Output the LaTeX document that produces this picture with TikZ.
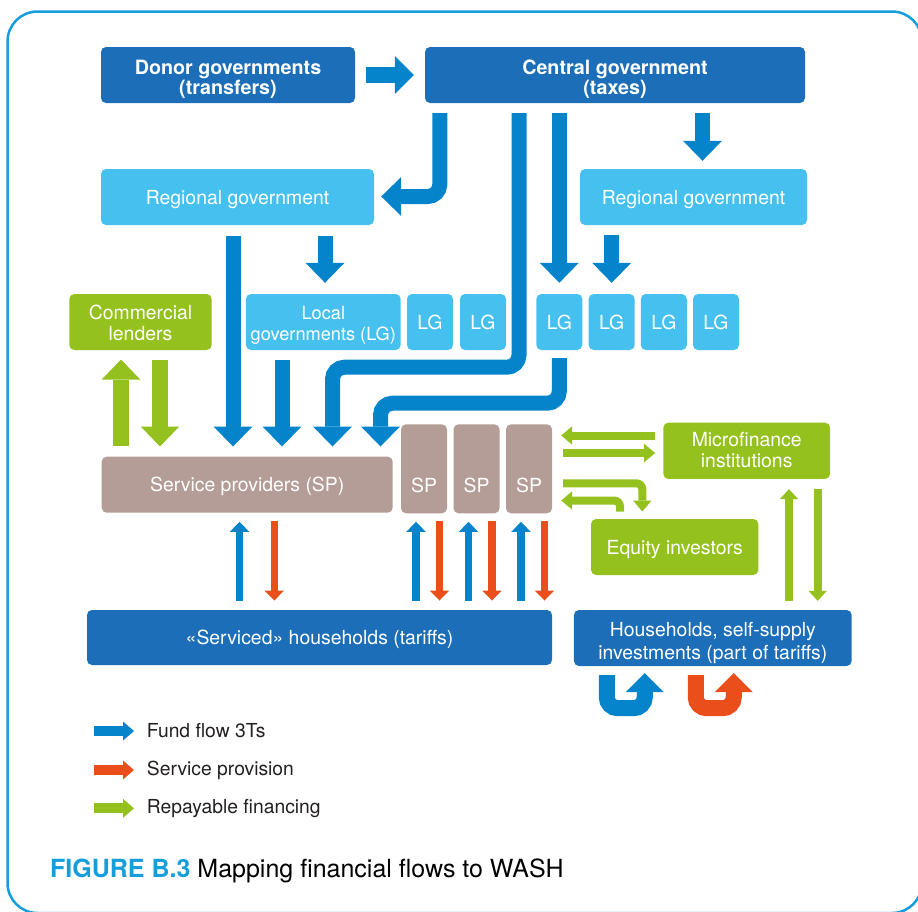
\documentclass[tikz,border=0pt]{standalone}
\usepackage{fontspec}
\setmainfont{TeX Gyre Heros}
\usetikzlibrary{arrows.meta,calc}
\definecolor{dkblue}{RGB}{27,110,183}
\definecolor{arblue}{RGB}{5,132,203}
\definecolor{ltblue}{RGB}{70,193,239}
\definecolor{grn}{RGB}{149,193,31}
\definecolor{taupe}{RGB}{180,157,150}
\definecolor{orng}{RGB}{233,78,27}
\definecolor{capblue}{RGB}{20,158,220}
\definecolor{legtext}{RGB}{35,31,32}
\newcommand{\tlines}[2]{\begin{tabular}[t]{@{}c@{}}#1\\#2\end{tabular}}
\begin{document}
\begin{tikzpicture}[x=1pt,y=-1pt,
  box/.style={rounded corners=5pt, inner sep=0pt, text=white, font=\fontsize{19.4}{21}\selectfont, text height=14pt, text depth=0pt},
  twoline/.style={text height=14pt, text depth=20pt},
  dbox/.style={box, fill=dkblue},
  lbox/.style={box, fill=ltblue},
  gbox/.style={box, fill=grn},
  sbox/.style={box, fill=taupe},
  boldtwo/.style={font=\fontsize{19.7}{19}\selectfont\bfseries, text height=14pt, text depth=15.4pt},
  fatblue/.style={draw=arblue, line width=15pt, -{Triangle[length=20pt,width=39pt,line width=0pt]}},
  donorarrow/.style={draw=arblue, line width=16pt, -{Triangle[length=19pt,width=38pt,line width=0pt]}},
  fatgreen/.style={draw=grn, line width=16pt, -{Triangle[length=20pt,width=38.5pt,line width=0pt]}},
  slimblue/.style={draw=arblue, line width=7.6pt, -{Triangle[length=10pt,width=19.7pt,line width=0pt]}},
  slimorange/.style={draw=orng, line width=7.6pt, -{Triangle[length=10pt,width=19.7pt,line width=0pt]}},
  slimgreen/.style={draw=grn, line width=7.6pt, -{Triangle[length=10pt,width=18.5pt,line width=0pt]}},
  midgreen/.style={draw=grn, line width=8pt, -{Triangle[length=11pt,width=18.5pt,line width=0pt]}},
  ublue/.style={draw=arblue, line width=16pt, -{Triangle[length=19pt,width=38pt,line width=0pt]}},
  uorange/.style={draw=orng, line width=16pt, -{Triangle[length=19pt,width=38pt,line width=0pt]}},
  legarrow/.style={line width=10pt, -{Triangle[length=11pt,width=19pt,line width=0pt]}},
  legtxt/.style={anchor=west, inner sep=0pt, text=legtext, font=\fontsize{19.3}{21}\selectfont},
  sptxt/.style={inner sep=0pt, text=white, font=\fontsize{19.4}{21}\selectfont, text height=14pt, text depth=0pt}
]
\useasboundingbox (0,0) rectangle (918,911);
\clip (0,0) rectangle (918,911);
\draw[capblue, line width=2.5pt, rounded corners=30pt] (7.5,11.5) rectangle (922,913);

% boxes
\node[dbox, boldtwo, minimum width=254pt, minimum height=56pt] (donor) at (228,75) {\tlines{Donor governments}{(transfers)}};
\node[dbox, boldtwo, minimum width=380pt, minimum height=56pt] (central) at (615,75) {\tlines{Central government}{(taxes)}};
\node[lbox, minimum width=273pt, minimum height=56pt] (regL) at (237.5,197) {Regional government};
\node[lbox, minimum width=227pt, minimum height=56pt] (regR) at (693.5,197) {Regional government};
\node[gbox, twoline, minimum width=142.4pt, minimum height=56pt] (comL) at (140.5,322) {\tlines{Commercial}{lenders}};
\node[lbox, twoline, minimum width=154.7pt, minimum height=56pt, font=\fontsize{18.2}{21}\selectfont] (localG) at (323.3,322) {\tlines{Local}{governments (LG)}};
\node[lbox, minimum width=46pt, minimum height=56pt] (lg1) at (430,322) {LG};
\node[lbox, minimum width=46pt, minimum height=56pt] (lg2) at (483,322) {LG};
\node[lbox, minimum width=46pt, minimum height=56pt] (lg3) at (559.3,322) {LG};
\node[lbox, minimum width=46pt, minimum height=56pt] (lg4) at (611.7,322) {LG};
\node[lbox, minimum width=46pt, minimum height=56pt] (lg5) at (663.8,322) {LG};
\node[lbox, minimum width=46pt, minimum height=56pt] (lg6) at (716,322) {LG};
\node[sbox, minimum width=291pt, minimum height=56pt] (spbig) at (247.2,484.7) {Service providers (SP)};
\node[sbox, minimum width=46pt, minimum height=89pt] (sp1) at (424,468.8) {};
\node[sbox, minimum width=46pt, minimum height=89pt] (sp2) at (476.5,468.8) {};
\node[sbox, minimum width=46pt, minimum height=89pt] (sp3) at (529,468.8) {};
\node[sptxt] (sp1t) at ($(sp1.center)+(0,17)$) {SP};
\node[sptxt] (sp2t) at ($(sp2.center)+(0,17)$) {SP};
\node[sptxt] (sp3t) at ($(sp3.center)+(0,17)$) {SP};
\node[gbox, minimum width=166.7pt, minimum height=56.3pt, text height=14pt, text depth=22pt] (micro) at (746.7,450.8) {\tlines{Microfinance}{institutions}};
\node[gbox, minimum width=167.3pt, minimum height=56pt] (equity) at (674.7,547) {Equity investors};
\node[dbox, minimum width=465pt, minimum height=55pt] (hhserv) at (319.5,637.5) {«Serviced» households (tariffs)};
\node[dbox, minimum width=277.7pt, minimum height=56pt, font=\fontsize{19.4}{22.5}\selectfont, text height=14pt, text depth=17pt] (hhself) at (712.8,638) {\tlines{Households, self-supply}{investments (part of tariffs)}};

% fund flow arrows
\draw[donorarrow] ($(donor.east)+(11,0)$) -- ($(central.west)+(-11,0)$);
\draw[fatblue, rounded corners=12pt] ($(central.south west)+(15,10)$) |- ($(regL.east)+(7,-0.5)$);
\draw[fatblue] ($(central.south -| regR.north)+(9,10)$) -- ($(regR.north)+(9,-8)$);
\draw[fatblue] ($(central.south -| lg3.north)+(0,10)$) -- ($(lg3.north)+(0,-11)$);
\draw[fatblue] ($(regR.south -| lg4.north)+(0,10)$) -- ($(lg4.north)+(0,-11)$);
\draw[fatblue, rounded corners=12pt] ($(central.south)+(-96,10)$) -- ($(central.south)+(-96,264)$) -| ($(spbig.north)+(85.3,-10)$);
\draw[fatblue, rounded corners=12pt] ($(lg3.south)+(0,8)$) -- ($(lg3.south)+(0,53)$) -| ($(spbig.north)+(133.3,-10)$);
\draw[fatblue] ($(regL.south)+(-4.5,11)$) -- ($(spbig.north)+(-14.2,-10)$);
\draw[fatblue] ($(localG.north |- regL.south)+(1.7,11)$) -- ($(localG.north)+(1.7,-11)$);
\draw[fatblue] ($(localG.south)+(-41.3,10)$) -- ($(spbig.north)+(34.8,-10)$);

% commercial lenders
\draw[fatgreen] ($(spbig.north)+(-126.2,-10.7)$) -- ($(comL.south)+(-19.5,9.3)$);
\draw[fatgreen] ($(comL.south)+(19.5,10)$) -- ($(spbig.north)+(-87.2,-10)$);

% SP <-> households
\draw[slimblue] ($(hhserv.north -| spbig.south)+(-7.7,-9)$) -- ($(spbig.south)+(-7.7,9)$);
\draw[slimorange] ($(spbig.south)+(27.1,8.3)$) -- ($(hhserv.north -| spbig.south)+(27.1,-9.3)$);
\foreach \s in {sp1,sp2,sp3}{
  \draw[slimblue] ($(hhserv.north -| \s.south)+(-8,-9)$) -- ($(\s.south)+(-8,8.4)$);
  \draw[slimorange] ($(\s.south)+(15.5,7.7)$) -- ($(hhserv.north -| \s.south)+(15.5,-9.3)$);
}

% microfinance / equity
\draw[midgreen] ($(micro.west)+(-8,-15.3)$) -- ($(sp3.east |- micro.west)+(9,-15.3)$);
\draw[midgreen] ($(sp3.east |- micro.west)+(11,2.2)$) -- ($(micro.west)+(-8,2.2)$);
\draw[midgreen, rounded corners=6pt] ($(sp3.east)+(11,14.5)$) -| ($(equity.north)+(-32.4,-7.3)$);
\draw[midgreen, rounded corners=6pt] ($(equity.north)+(-54.7,-7.3)$) |- ($(sp3.east)+(9,31.7)$);
\draw[slimgreen] ($(hhself.north)+(76.2,-9)$) -- ($(micro.south -| hhself.north)+(76.2,10)$);
\draw[slimgreen] ($(micro.south -| hhself.north)+(104.9,10)$) -- ($(hhself.north)+(104.9,-9)$);

% U-turns
\draw[ublue, rounded corners=11pt] ($(hhself.south west)+(33,9)$) -- ++(0,33) -| ($(hhself.south west)+(71,7)$);
\draw[uorange, rounded corners=11pt] ($(hhself.south west)+(122,9)$) -- ++(0,33) -| ($(hhself.south west)+(160,7)$);

% legend
\node[legtxt] (t1) at (146.7,731) {Fund flow 3Ts};
\node[legtxt] (t2) at (146.7,770) {Service provision};
\node[legtxt] (t3) at (146.7,808.3) {Repayable financing};
\draw[legarrow, draw=arblue] ($(t1.west)+(-52.7,0)$) -- ($(t1.west)+(-12.7,0)$);
\draw[legarrow, draw=orng] ($(t2.west)+(-52.7,0)$) -- ($(t2.west)+(-12.7,0)$);
\draw[legarrow, draw=grn] ($(t3.west)+(-52.7,0)$) -- ($(t3.west)+(-12.7,0)$);

% caption
\node[anchor=base west, inner sep=0pt, font=\fontsize{25}{28}\selectfont] (cap) at (50,877) {\textcolor{capblue}{\bfseries FIGURE B.3} Mapping financial flows to WASH};
\end{tikzpicture}
\end{document}
